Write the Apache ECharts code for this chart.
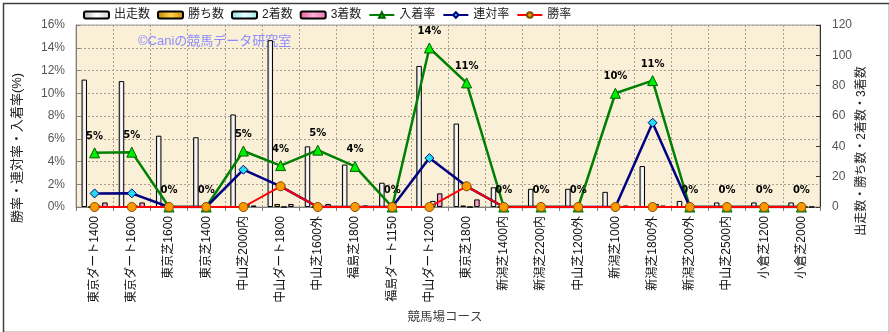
<!DOCTYPE html>
<html><head><meta charset="utf-8">
<script src="https://cdn.jsdelivr.net/npm/echarts/dist/echarts.min.js"></script>
<style>html,body{margin:0;padding:0;background:#fff}#c{width:889px;height:332px}</style>
</head><body><div id="c"></div>
<script>
const categories = ['東京ダート1400','東京ダート1600','東京芝1600','東京芝1400','中山芝2000内','中山ダート1800','中山芝1600外','福島芝1800','福島ダート1150','中山ダート1200','東京芝1800','新潟芝1400内','新潟芝2200内','中山芝1200外','新潟芝1000','新潟芝1800外','新潟芝2000外','中山芝2500内','小倉芝1200','小倉芝2000'];
const runs    = [84,83,47,46,61,110,40,28,16,93,55,13,12,12,10,27,4,3,3,3];
const wins    = [0,0,0,0,0,2,0,0,0,0,1,0,0,0,0,0,0,0,0,0];
const seconds = [1,1,0,0,2,0,0,0,0,4,0,0,0,0,0,2,0,0,0,0];
const thirds  = [3,3,0,0,1,2,2,1,0,9,5,0,0,0,1,1,0,0,0,0];
const top3Rate   = [4.76,4.82,0,0,4.92,3.64,5.0,3.57,0,13.98,10.91,0,0,0,10.0,11.11,0,0,0,0];
const rentaiRate = [1.19,1.20,0,0,3.28,1.82,0,0,0,4.30,1.82,0,0,0,0,7.41,0,0,0,0];
const winRate    = [0,0,0,0,0,1.82,0,0,0,0,1.82,0,0,0,0,0,0,0,0,0];
const leftTicks = {min:0,max:16,interval:2};
const rightTicks = {min:0,max:120,interval:20};

const FONT = '"Liberation Sans","Noto Sans CJK JP",sans-serif';
function grad(c1,c2,c3){return {type:'linear',x:0,y:0,x2:1,y2:0,colorStops:[{offset:0,color:c1},{offset:0.5,color:c2},{offset:1,color:c3}]};}
const barBase = {type:'bar',yAxisIndex:1,barWidth:5.5,barGap:'25%',z:2};
const chart = echarts.init(document.getElementById('c'),null,{renderer:'canvas'});
chart.setOption({
  animation:false,
  backgroundColor:'#ffffff',
  textStyle:{fontFamily:FONT},
  grid:{left:76,right:69,top:25,bottom:125,show:true,backgroundColor:'#FAEFD7',borderColor:'#a0a0a0',borderWidth:1},
  legend:{left:83,top:9,itemWidth:25,itemHeight:7,itemGap:7,padding:0,
    textStyle:{fontSize:12,color:'#222',fontFamily:FONT},
    data:['出走数','勝ち数','2着数','3着数','入着率','連対率','勝率']},
  xAxis:{type:'category',data:categories,boundaryGap:true,
    axisLine:{lineStyle:{color:'#808080'}},
    axisTick:{show:true,length:4,lineStyle:{color:'#808080'}},
    splitLine:{show:true,lineStyle:{type:[2,2],color:'#a8a090'}},
    axisLabel:{interval:0,rotate:90,fontSize:12,color:'#111',margin:9,fontFamily:FONT}},
  yAxis:[
    {type:'value',min:leftTicks.min,max:leftTicks.max,interval:leftTicks.interval,
      axisLine:{show:true,lineStyle:{color:'#808080'}},
      axisTick:{show:true,inside:true,length:4,lineStyle:{color:'#808080'}},
      splitLine:{show:true,lineStyle:{type:[2,2],color:'#a8a090'}},
      axisLabel:{formatter:'{value}%',fontSize:12,color:'#555',margin:11}},
    {type:'value',min:rightTicks.min,max:rightTicks.max,interval:rightTicks.interval,position:'right',
      axisLine:{show:true,lineStyle:{color:'#333'}},
      axisTick:{show:true,inside:true,length:4,lineStyle:{color:'#333'}},
      splitLine:{show:false},
      axisLabel:{fontSize:12,color:'#555',margin:12}}
  ],
  series:[
    Object.assign({},barBase,{name:'出走数',data:runs,itemStyle:{color:grad('#b8b8b8','#ffffff','#d0d0d0'),borderColor:'#000',borderWidth:1}}),
    Object.assign({},barBase,{name:'勝ち数',data:wins,itemStyle:{color:grad('#c08000','#ffd24a','#d09000'),borderColor:'#000',borderWidth:1}}),
    Object.assign({},barBase,{name:'2着数',data:seconds,itemStyle:{color:grad('#88dddd','#e8ffff','#a0e8e8'),borderColor:'#000',borderWidth:1}}),
    Object.assign({},barBase,{name:'3着数',data:thirds,itemStyle:{color:grad('#e060a0','#ffb0d8','#e878b0'),borderColor:'#000',borderWidth:1}}),
    {type:'line',name:'入着率',data:top3Rate,yAxisIndex:0,z:3,symbol:'triangle',symbolSize:10,
      lineStyle:{color:'#008000',width:2.5},itemStyle:{color:'#00ee00',borderColor:'#006000',borderWidth:1},
      label:{show:true,position:'top',distance:6,formatter:p=>Math.round(p.value)+'%',fontSize:10,fontWeight:'bold',color:'#000',fontFamily:'"DejaVu Sans",sans-serif'}},
    {type:'line',name:'連対率',data:rentaiRate,yAxisIndex:0,z:4,symbol:'diamond',symbolSize:9,
      lineStyle:{color:'#000080',width:2.5},itemStyle:{color:'#22ddee',borderColor:'#000080',borderWidth:1}},
    {type:'line',name:'勝率',data:winRate,yAxisIndex:0,z:5,symbol:'circle',symbolSize:9,
      lineStyle:{color:'#ff0000',width:2},itemStyle:{color:'#ff9900',borderColor:'#805000',borderWidth:1}}
  ],
  graphic:[
    {type:'rect',left:1,top:1,shape:{width:886,height:329},style:{fill:'none',stroke:'#404040',lineWidth:1.5},silent:true,z:-1},
    {type:'text',left:138,top:35,style:{text:'©Caniの競馬データ研究室',fontSize:13,fill:'#8c8cff',fontFamily:FONT},z:1},
    {type:'text',x:17,y:148,rotation:Math.PI/2,style:{text:'勝率・連対率・入着率(%)',fontSize:13,fill:'#222',align:'center',verticalAlign:'middle',fontFamily:FONT}},
    {type:'text',x:862,y:151,rotation:Math.PI/2,style:{text:'出走数・勝ち数・2着数・3着数',fontSize:12,fill:'#222',align:'center',verticalAlign:'middle',fontFamily:FONT}},
    {type:'text',x:445,y:318,style:{text:'競馬場コース',fontSize:12.5,fill:'#404040',align:'center',verticalAlign:'middle',fontFamily:FONT}}
  ]
});
</script></body></html>
